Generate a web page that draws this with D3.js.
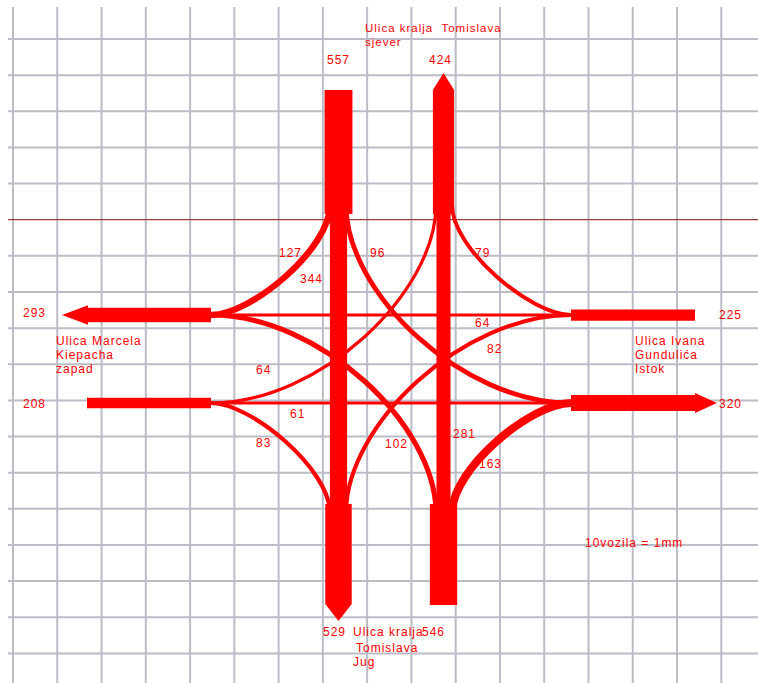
<!DOCTYPE html>
<html><head><meta charset="utf-8">
<script src="https://cdn.jsdelivr.net/npm/d3@7"></script>
<style>html,body{margin:0;padding:0;background:#fff;overflow:hidden}</style>
</head><body><svg id="c" width="758" height="683"></svg>
<script>
// ---------- DATA ----------
const flowKeys   = ["N-W","N-S","N-E","E-N","E-W","E-S","S-E","S-N","S-W","W-S","W-E","W-N"];
const flowValues = [127, 344, 96, 79, 64, 82, 163, 281, 102, 83, 61, 64];
const flowLabels = ["127","344","96","79","64","82","163","281","102","83","61","64"];
const legKeys    = ["N-in","N-out","S-in","S-out","W-in","W-out","E-in","E-out"];
const legValues  = [557, 424, 546, 529, 208, 293, 225, 320];
const legLabels  = ["557","424","546","529","208","293","225","320"];
const streetKeys = ["N","S","W","E"];
const streetNames = [
  ["Ulica kralja  Tomislava","sjever"],
  ["Ulica kralja","Tomislava","Jug"],
  ["Ulica Marcela","Kiepacha","zapad"],
  ["Ulica Ivana","Gundulića","Istok"]
];
const scaleNote = "10vozila = 1mm";

// ---------- LAYOUT ----------
const W = 758, H = 683, CX = 391, CY = 359;
const x = d3.scaleLinear().domain([-CX, W - CX]).range([0, W]);
const y = d3.scaleLinear().domain([-CY, H - CY]).range([0, H]);
const w = d3.scaleLinear().domain([0, 10]).range([0, 0.5]);   // 10 vozila = 1mm
const gx = d3.scaleLinear().domain([0, 16]).range([13, 721.3]);
const gy = d3.scaleLinear().domain([0, 17]).range([39, 653.4]);

const RED = "#ff0000";
const svg = d3.select("#c");

// grid
const grid = svg.append("g");
grid.selectAll("line.v").data(d3.range(17)).join("line")
  .attr("x1", d => gx(d)).attr("x2", d => gx(d)).attr("y1", 7).attr("y2", H)
  .attr("stroke", "#babdc8").attr("stroke-width", 2);
grid.selectAll("line.h").data(d3.range(18)).join("line")
  .attr("y1", d => gy(d)).attr("y2", d => gy(d)).attr("x1", 8).attr("x2", W)
  .attr("stroke", d => d === 5 ? "#9a3c3c" : "#babdc8")
  .attr("stroke-width", d => d === 5 ? 1.3 : 2);

// flow shapes (relative to intersection centre)
const leftTurn  = [[-180,44],[-71,44],[45,-66],[45,-154]];
const rightTurn = [[-180,-44],[-140,-44],[-61,-110],[-61,-154]];
const flip = (pts, sx, sy) => pts.map(p => [p[0]*sx, p[1]*sy]);
const flowShapes = {
  "N-W": flip(rightTurn, 1, 1),
  "E-N": flip(rightTurn, -1, 1),
  "W-S": flip(rightTurn, 1, -1),
  "S-E": flip(rightTurn, -1, -1),
  "W-N": flip(leftTurn, 1, 1),
  "N-E": flip(leftTurn, -1, 1),
  "E-S": flip(leftTurn, -1, -1),
  "S-W": flip(leftTurn, 1, -1),
  "N-S": [[-52.5,-154],[-52.5,154]],
  "S-N": [[52.5,-154],[52.5,154]],
  "E-W": [[180,-44],[-180,-44]],
  "W-E": [[-180,44],[180,44]]
};
function flowPath(pts) {
  const p = d3.path();
  p.moveTo(x(pts[0][0]), y(pts[0][1]));
  if (pts.length === 4) p.bezierCurveTo(x(pts[1][0]), y(pts[1][1]), x(pts[2][0]), y(pts[2][1]), x(pts[3][0]), y(pts[3][1]));
  else p.lineTo(x(pts[1][0]), y(pts[1][1]));
  return p.toString();
}
svg.append("g").selectAll("path").data(flowKeys).join("path")
  .attr("d", k => flowPath(flowShapes[k]))
  .attr("fill", "none").attr("stroke", RED)
  .attr("stroke-width", (k, i) => w(flowValues[i]));

// legs: [from, to, arrowLen, arrowExtra]
const legShapes = {
  "N-in":  [[-52.5,-145],[-52.5,-269],0,0],
  "N-out": [[52.5,-145],[52.5,-286],17,0],
  "S-in":  [[52.5,145],[52.5,246],0,0],
  "S-out": [[-52.5,145],[-52.5,262],17,0],
  "W-in":  [[-180,44],[-304,44],0,0],
  "W-out": [[-180,-44],[-329,-44],26,2.5],
  "E-in":  [[180,-44],[304,-44],0,0],
  "E-out": [[180,44],[326,44],22,2]
};
function legPoly(s, width) {
  const [a, b, len, extra] = s;
  const x1 = x(a[0]), y1 = y(a[1]), x2 = x(b[0]), y2 = y(b[1]);
  const L = Math.hypot(x2-x1, y2-y1), ux = (x2-x1)/L, uy = (y2-y1)/L, nx = -uy, ny = ux;
  const h = width/2;
  const sx = x2 - ux*len, sy = y2 - uy*len;
  const pts = [[x1+nx*h, y1+ny*h], [sx+nx*h, sy+ny*h]];
  if (len > 0) {
    pts.push([sx+nx*(h+extra), sy+ny*(h+extra)], [x2, y2], [sx-nx*(h+extra), sy-ny*(h+extra)]);
  }
  pts.push([sx-nx*h, sy-ny*h], [x1-nx*h, y1-ny*h]);
  return pts.map(p => p.join(",")).join(" ");
}
svg.append("g").selectAll("polygon").data(legKeys).join("polygon")
  .attr("points", (k, i) => legPoly(legShapes[k], w(legValues[i])))
  .attr("fill", RED);

// ---------- TEXT ----------
const txt = svg.append("g").attr("fill", RED)
  .style("font-family", "'Liberation Sans', Arial, sans-serif")
  .style("font-size", "12px").style("letter-spacing", "1px");

const legLabelPos = {
  "N-in":[327,64], "N-out":[429,64], "S-in":[422,636], "S-out":[323,636],
  "W-in":[23,408], "W-out":[23,317], "E-in":[719,319], "E-out":[719,408]
};
txt.selectAll("text.leg").data(legKeys).join("text").attr("class","leg")
  .attr("x", k => legLabelPos[k][0]).attr("y", k => legLabelPos[k][1])
  .text((k, i) => legLabels[i]);

const flowLabelPos = {
  "N-W":[279,257], "N-S":[300,283], "N-E":[370,257], "E-N":[475,257],
  "E-W":[475,327], "E-S":[487,353], "S-E":[479,468], "S-N":[453,438],
  "S-W":[385,448], "W-S":[256,447], "W-E":[290,418], "W-N":[256,374]
};
txt.selectAll("text.flow").data(flowKeys).join("text").attr("class","flow")
  .attr("x", k => flowLabelPos[k][0]).attr("y", k => flowLabelPos[k][1])
  .text((k, i) => flowLabels[i]);

const streetPos = {
  "N": {x:[365,365], y:[32,46], size:"11.5px"},
  "S": {x:[353,356,353], y:[636,652,666], size:"12px"},
  "W": {x:[56,56,56], y:[345,359,373], size:"12px"},
  "E": {x:[635,635,635], y:[345,359,373], size:"12px"}
};
streetKeys.forEach((k, i) => {
  streetNames[i].forEach((line, j) => {
    txt.append("text").attr("x", streetPos[k].x[j]).attr("y", streetPos[k].y[j])
      .style("font-size", streetPos[k].size)
      .attr("xml:space", "preserve").style("white-space", "pre").text(line);
  });
});
txt.append("text").attr("x", 585).attr("y", 547).text(scaleNote);
</script>
</body></html>
